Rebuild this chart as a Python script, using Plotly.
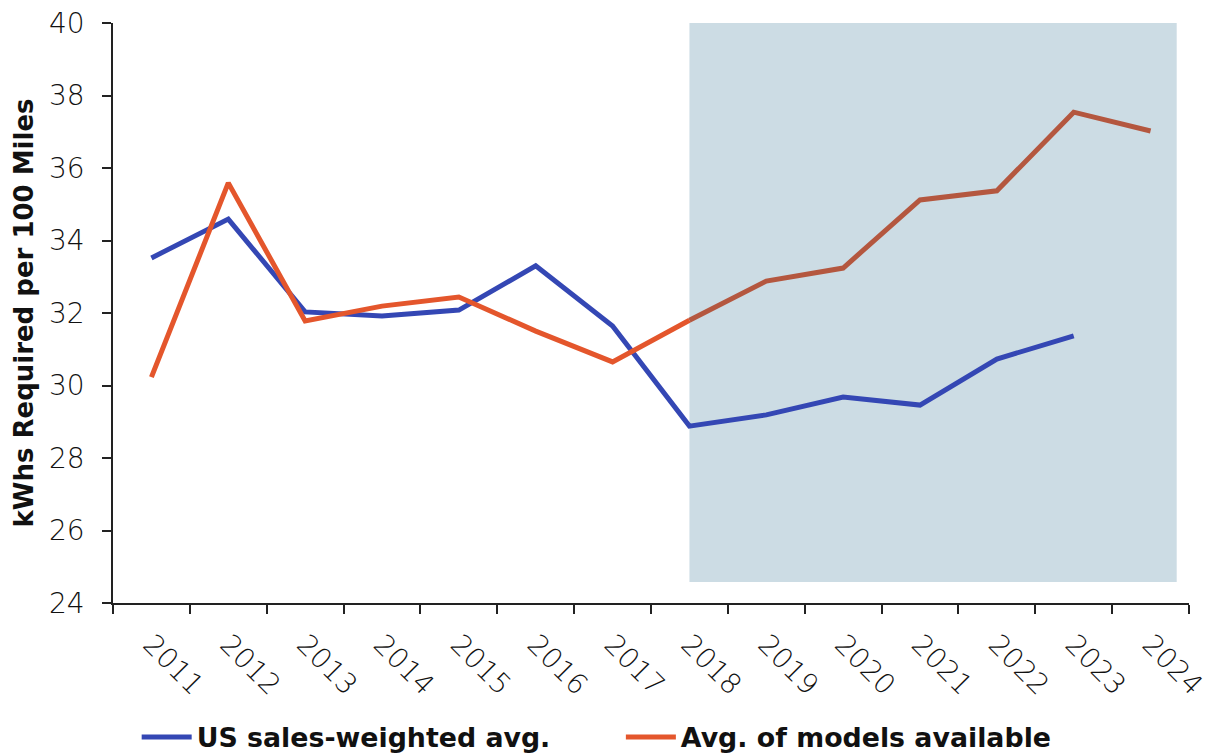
import plotly.graph_objects as go

years = [str(y) for y in range(2011, 2025)]
us_sales_weighted = [33.52, 34.59, 32.03, 31.92, 32.08, 33.30, 31.64, 28.88,
                     29.19, 29.68, 29.46, 30.73, 31.37]
models_available = [30.23, 35.59, 31.78, 32.19, 32.44, 31.50, 30.65, 31.80,
                    32.88, 33.24, 35.12, 35.37, 37.54, 37.02]
y_ticks = [24, 26, 28, 30, 32, 34, 36, 38, 40]

BLUE = "#3447B4"
ORANGE = "#E4562C"
BROWN = "#B4573F"
SHADE = "#CCDCE4"
FONT = "DejaVu Sans"

split = years.index("2018")

fig = go.Figure()

fig.add_trace(go.Scatter(
    x=years[:len(us_sales_weighted)], y=us_sales_weighted, mode="lines",
    name="US sales-weighted avg.", line=dict(color=BLUE, width=5),
    legend="legend",
))
fig.add_trace(go.Scatter(
    x=years[:split + 1], y=models_available[:split + 1], mode="lines",
    name="Avg. of models available", line=dict(color=ORANGE, width=5),
    legend="legend2",
))
fig.add_trace(go.Scatter(
    x=years[split:], y=models_available[split:], mode="lines",
    showlegend=False, line=dict(color=BROWN, width=5),
))

# shaded projection window
fig.add_shape(type="rect", xref="x", yref="y",
              x0=split, x1=13.34, y0=24.58, y1=40.14,
              fillcolor=SHADE, line=dict(width=0), layer="below")

legend_font = dict(size=26.8, family=FONT, weight=700, color="#111111")
fig.update_layout(
    width=1215, height=753,
    margin=dict(l=113, r=26, t=23, b=150, autoexpand=False),
    plot_bgcolor="white", paper_bgcolor="white",
    font=dict(family=FONT, color="#1a1a1a"),
    legend=dict(
        orientation="h", x=0.022, xanchor="left", y=-0.231, yanchor="middle",
        font=legend_font, itemwidth=50, bgcolor="rgba(0,0,0,0)",
    ),
    legend2=dict(
        orientation="h", x=0.472, xanchor="left", y=-0.231, yanchor="middle",
        font=legend_font, itemwidth=50, bgcolor="rgba(0,0,0,0)",
    ),
)

fig.update_xaxes(
    type="category", categoryorder="array", categoryarray=years,
    range=[-0.5, 13.5], tickson="boundaries",
    showline=True, linecolor="#222222", linewidth=1.5,
    ticks="outside", ticklen=9, tickcolor="#222222", tickwidth=1.5,
    tickangle=45, ticklabelstandoff=12,
    tickfont=dict(size=28, family=FONT, weight=200, color="#111111"),
    showgrid=False, zeroline=False, fixedrange=True,
)
fig.update_yaxes(
    range=[24, 40], tickvals=y_ticks,
    showline=True, linecolor="#222222", linewidth=1.5,
    ticks="outside", ticklen=9, tickcolor="#222222", tickwidth=1.5,
    ticklabelstandoff=12,
    tickfont=dict(size=28, family=FONT, weight=200, color="#111111"),
    title=dict(text="kWhs Required per 100 Miles",
               font=dict(size=26, family=FONT, weight=700, color="#111111"),
               standoff=8),
    showgrid=False, zeroline=False, fixedrange=True,
)

fig.write_html("out.html")
